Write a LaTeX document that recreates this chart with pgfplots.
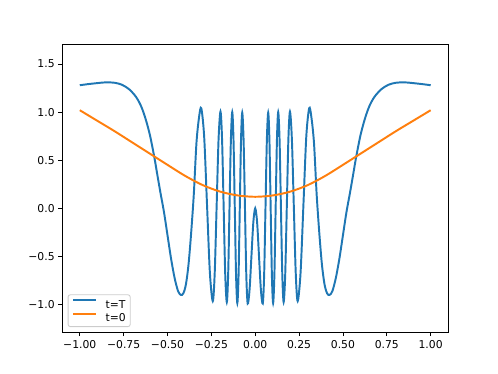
\documentclass[border=0pt]{standalone}
\usepackage{fontspec}
\setmainfont{DejaVu Sans}
\usepackage{pgfplots}
\pgfplotsset{compat=1.18}
\definecolor{mplblue}{HTML}{1F77B4}
\definecolor{mplorange}{HTML}{FF7F0E}
\definecolor{legframe}{HTML}{CCCCCC}
\begin{document}
\begin{tikzpicture}
\path[use as bounding box] (0,0) rectangle (460.8pt,345.6pt);
\begin{axis}[
  at={(57.6pt,38.016pt)}, anchor=south west,
  width=357.12pt, height=266.112pt, scale only axis,
  xmin=-1.1, xmax=1.1, ymin=-1.29, ymax=1.70,
  xtick={-1,-0.75,-0.5,-0.25,0,0.25,0.5,0.75,1},
  xticklabels={−1.00,−0.75,−0.50,−0.25,0.00,0.25,0.50,0.75,1.00},
  ytick={-1,-0.5,0,0.5,1,1.5},
  yticklabels={−1.0,−0.5,0.0,0.5,1.0,1.5},
  xtick pos=bottom, ytick pos=left,
  tick align=outside, major tick length=3.5pt,
  tick style={black, line width=0.8pt},
  axis line style={line width=0.8pt},
  ticklabel style={font=\fontsize{10}{12}\selectfont},
  legend style={at={(0,0)}, anchor=south west, xshift=5pt, yshift=5pt,
    fill=white, draw=legframe, line width=0.8pt, rounded corners=2pt,
    font=\fontsize{10}{12}\selectfont, row sep=4pt, column sep=8pt,
    inner xsep=4pt, inner ysep=4pt,
    nodes={inner sep=0pt, text height=7.6pt, text depth=0.4pt}},
  legend cell align=left,
  legend image code/.code={\draw[#1] (0pt,3.8pt) -- (21pt,3.8pt);},
]
\addplot[draw=mplblue, line width=1.8pt, smooth] coordinates {
(-1.000,1.280) (-0.950,1.292) (-0.900,1.302) (-0.850,1.310) (-0.800,1.305)
(-0.760,1.285) (-0.720,1.240) (-0.680,1.160) (-0.650,1.060) (-0.625,0.930)
(-0.600,0.760) (-0.575,0.530) (-0.560,0.370) (-0.540,0.160) (-0.520,-0.040)
(-0.500,-0.280) (-0.480,-0.520) (-0.460,-0.720) (-0.440,-0.860) (-0.424,-0.900)
(-0.410,-0.885) (-0.395,-0.790) (-0.380,-0.580) (-0.365,-0.250) (-0.350,0.150)
(-0.335,0.680) (-0.320,0.950) (-0.3075,1.041)
(-0.2911,0.747) (-0.2748,0.038) (-0.2584,-0.671) (-0.242,-0.965)
(-0.231,-0.676) (-0.220,0.021) (-0.209,0.717) (-0.198,1.006)
(-0.189,0.716) (-0.180,0.016) (-0.171,-0.685) (-0.162,-0.975)
(-0.15425,-0.686) (-0.1465,0.013) (-0.13875,0.711) (-0.131,1.000)
(-0.12375,0.709) (-0.1165,0.008) (-0.10925,-0.694) (-0.102,-0.985)
(-0.095,-0.695) (-0.088,0.005) (-0.081,0.705) (-0.074,0.995)
(-0.06625,0.704) (-0.0585,0.003) (-0.05075,-0.699) (-0.043,-0.990)
(-0.03225,-0.845) (-0.0215,-0.495) (-0.01075,-0.145) (0.000,0.000)
(0.01075,-0.145) (0.0215,-0.495) (0.03225,-0.845) (0.043,-0.990)
(0.05075,-0.699) (0.0585,0.003) (0.06625,0.704) (0.074,0.995)
(0.081,0.705) (0.088,0.005) (0.095,-0.695) (0.102,-0.985)
(0.10925,-0.694) (0.1165,0.008) (0.12375,0.709) (0.131,1.000)
(0.13875,0.711) (0.1465,0.013) (0.15425,-0.686) (0.162,-0.975)
(0.171,-0.685) (0.180,0.016) (0.189,0.716) (0.198,1.006)
(0.209,0.717) (0.220,0.021) (0.231,-0.676) (0.242,-0.965)
(0.2584,-0.671) (0.2748,0.038) (0.2911,0.747) (0.3075,1.041)
(0.320,0.950) (0.335,0.680) (0.350,0.150) (0.365,-0.250) (0.380,-0.580)
(0.395,-0.790) (0.410,-0.885) (0.424,-0.900) (0.440,-0.860) (0.460,-0.720)
(0.480,-0.520) (0.500,-0.280) (0.520,-0.040) (0.540,0.160) (0.560,0.370)
(0.575,0.530) (0.600,0.760) (0.625,0.930) (0.650,1.060) (0.680,1.160)
(0.720,1.240) (0.760,1.285) (0.800,1.305) (0.850,1.310) (0.900,1.302)
(0.950,1.292) (1.000,1.280)
};
\addlegendentry{t=T}
\addplot[draw=mplorange, line width=1.8pt, smooth] coordinates {
(-1.0,1.020) (-0.9,0.910) (-0.8,0.800) (-0.7,0.684) (-0.6,0.568) (-0.5,0.452)
(-0.4,0.338) (-0.3,0.242) (-0.2,0.174) (-0.1,0.134) (0.0,0.120)
(0.1,0.134) (0.2,0.174) (0.3,0.242) (0.4,0.338) (0.5,0.452) (0.6,0.568)
(0.7,0.684) (0.8,0.800) (0.9,0.910) (1.0,1.020)
};
\addlegendentry{t=0}
\end{axis}
\end{tikzpicture}
\end{document}
